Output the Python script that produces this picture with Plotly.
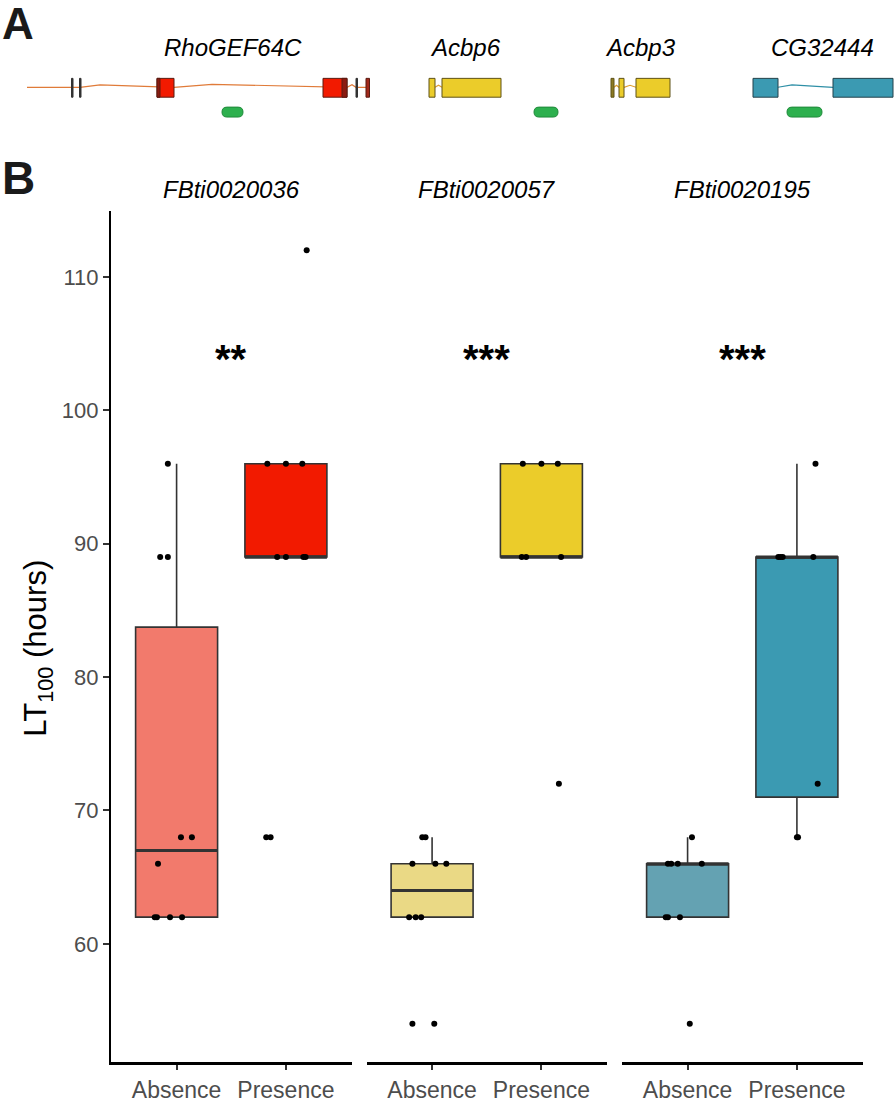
import numpy as np
import plotly.graph_objects as go

W, H = 894, 1103

# ---------------- Panel B data ----------------
categories = ["Absence", "Presence"]
te_names = ["FBti0020036", "FBti0020057", "FBti0020195"]
significance = ["**", "***", "***"]
significance_y = [104.5, 104.5, 104.5]

fbti0020036_absence = [62, 62, 62, 62, 66, 68, 68, 89, 89, 96]
fbti0020036_presence = [68, 68, 89, 89, 89, 89, 96, 96, 96, 112]
fbti0020057_absence = [54, 54, 62, 62, 62, 66, 66, 66, 68, 68]
fbti0020057_presence = [72, 89, 89, 89, 96, 96, 96]
fbti0020195_absence = [54, 62, 62, 62, 66, 66, 66, 66, 68]
fbti0020195_presence = [68, 68, 72, 89, 89, 89, 89, 96]

# horizontal jitter of the dots (category units)
jitter_0036_absence = [-0.20, -0.18, -0.06, 0.05, -0.17, 0.04, 0.14, -0.15, -0.08, -0.08]
jitter_0036_presence = [-0.18, -0.14, -0.08, 0.0, 0.16, 0.18, -0.17, 0.0, 0.15, 0.19]
jitter_0057_absence = [-0.18, 0.02, -0.21, -0.15, -0.10, -0.18, 0.03, 0.13, -0.09, -0.06]
jitter_0057_presence = [0.16, -0.18, -0.14, 0.18, -0.17, 0.0, 0.15]
jitter_0195_absence = [0.02, -0.20, -0.18, -0.07, -0.18, -0.15, -0.09, 0.13, 0.04]
jitter_0195_presence = [0.0, 0.01, 0.19, -0.17, -0.15, -0.13, 0.15, 0.17]

colors_absence = ["#F27A6C", "#EAD985", "#64A2B2"]
colors_presence = ["#F21A00", "#EBCC2A", "#3B9AB2"]

y_ticks = [60, 70, 80, 90, 100, 110]

# ---------------- Panel A data (gene models, track units) ----------------
gene_names = ["RhoGEF64C", "Acbp6", "Acbp3", "CG32444"]
gene_label_pos = [233, 465, 640, 822]

exon_start = [71.5, 79.5, 157, 157, 323, 342, 356, 366, 429, 442, 611, 619, 636, 753, 833]
exon_end = [73, 81, 174, 160, 347, 347, 357.5, 369.5, 435, 501, 614, 624, 670, 778, 893]
exon_fill = ["#333333", "#333333", "#F21A00", "#8B1A10", "#F21A00", "#8B1A10", "#333333", "#A0281A",
             "#EBCC2A", "#EBCC2A", "#8C7A22", "#EBCC2A", "#EBCC2A", "#3B9AB2", "#3B9AB2"]
exon_line = ["#333333", "#333333", "#5A1A10", "#5A1A10", "#5A1A10", "#5A1A10", "#333333", "#5A1A10",
             "#5E5218", "#5E5218", "#5E5218", "#5E5218", "#5E5218", "#23414A", "#23414A"]

intron_x = [
    [27, 80, 100, 157, 174, 212, 323, 347, 352, 356, 366],
    [435, 438.5, 442],
    [614, 616.5, 619, 624, 630, 636],
    [778, 792, 833],
]
intron_y = [
    [88, 88, 85.5, 88, 88, 85, 88, 88, 85.5, 88, 88],
    [88, 86, 88],
    [88, 86, 88, 88, 86, 88],
    [88, 85.5, 88],
]
intron_color = ["#E07B39", "#E0A030", "#E0A030", "#2E8FA6"]

te_start = [222, 534, 787]
te_end = [243, 558, 822]

FONT = "Liberation Sans"

fig = go.Figure()

panel_groups = [
    (fbti0020036_absence, fbti0020036_presence, jitter_0036_absence, jitter_0036_presence),
    (fbti0020057_absence, fbti0020057_presence, jitter_0057_absence, jitter_0057_presence),
    (fbti0020195_absence, fbti0020195_presence, jitter_0195_absence, jitter_0195_presence),
]


def box_stats(vals):
    v = np.array(vals, dtype=float)
    q1, med, q3 = np.percentile(v, [25, 50, 75])
    iqr = q3 - q1
    lo = v[v >= q1 - 1.5 * iqr].min()
    hi = v[v <= q3 + 1.5 * iqr].max()
    return q1, med, q3, lo, hi


BOXW = 0.75
for i, (absv, prev, ja, jp) in enumerate(panel_groups):
    xa = "x" if i == 0 else f"x{i + 1}"
    ya = "y" if i == 0 else f"y{i + 1}"
    for pos, vals, jit, col in [(1, absv, ja, colors_absence[i]), (2, prev, jp, colors_presence[i])]:
        q1, med, q3, lo, hi = box_stats(vals)
        fig.add_trace(go.Box(
            x=[pos], q1=[q1], median=[med], q3=[q3], lowerfence=[lo], upperfence=[hi],
            width=BOXW, fillcolor=col, line=dict(color="#333333", width=1.6),
            whiskerwidth=0, boxpoints=False, xaxis=xa, yaxis=ya, showlegend=False,
            hoverinfo="skip",
        ))
        fig.add_trace(go.Scatter(
            x=[pos - BOXW / 2, pos + BOXW / 2], y=[med, med], mode="lines",
            line=dict(color="#333333", width=3.2), xaxis=xa, yaxis=ya,
            showlegend=False, hoverinfo="skip",
        ))
        fig.add_trace(go.Scatter(
            x=[pos + j for j in jit], y=vals, mode="markers",
            marker=dict(color="black", size=6), xaxis=xa, yaxis=ya,
            showlegend=False, hoverinfo="skip",
        ))

# gene introns
for gx, gy, gc in zip(intron_x, intron_y, intron_color):
    fig.add_trace(go.Scatter(x=gx, y=gy, mode="lines", line=dict(color=gc, width=1.2),
                             xaxis="x4", yaxis="y4", showlegend=False, hoverinfo="skip"))

shapes = []
EX_TOP, EX_BOT = 79, 98
for s, e, fc, lc in zip(exon_start, exon_end, exon_fill, exon_line):
    shapes.append(dict(type="rect", xref="x4", yref="y4", x0=s, x1=e, y0=EX_TOP, y1=EX_BOT,
                       fillcolor=fc, line=dict(color=lc, width=1)))

TE_TOP, TE_BOT = 108, 118
r = (TE_BOT - TE_TOP) / 2
for s, e in zip(te_start, te_end):
    ym = (TE_TOP + TE_BOT) / 2
    path = (f"M {s + r},{TE_TOP} L {e - r},{TE_TOP} Q {e},{TE_TOP} {e},{ym} Q {e},{TE_BOT} {e - r},{TE_BOT} "
            f"L {s + r},{TE_BOT} Q {s},{TE_BOT} {s},{ym} Q {s},{TE_TOP} {s + r},{TE_TOP} Z")
    shapes.append(dict(type="path", xref="x4", yref="y4", path=path,
                       fillcolor="#2DB04E", line=dict(color="#1F8A3A", width=1)))

annotations = []
for name, px in zip(gene_names, gene_label_pos):
    annotations.append(dict(xref="x4", yref="y4", x=px, y=48, text=f"<i>{name}</i>", showarrow=False,
                            font=dict(family=FONT, size=24, color="black"), xanchor="center", yanchor="middle"))

def py(p):
    return 1 - p / H

for i, (name, sig, sy) in enumerate(zip(te_names, significance, significance_y)):
    xa = "x" if i == 0 else f"x{i + 1}"
    ya = "y" if i == 0 else f"y{i + 1}"
    annotations.append(dict(xref=xa, yref="paper", x=1.5, y=py(191), text=f"<i>{name}</i>", showarrow=False,
                            font=dict(family=FONT, size=24, color="black"), xanchor="center", yanchor="middle"))
    annotations.append(dict(xref=xa, yref=ya, x=1.5, y=sy, text=f"<b>{sig}</b>", showarrow=False,
                            font=dict(family=FONT, size=40, color="black"), xanchor="center", yanchor="middle",
                            yshift=-9))

annotations.append(dict(xref="paper", yref="paper", x=0.0, y=1.0, text="<b>A</b>", showarrow=False,
                        font=dict(family=FONT, size=44, color="#1a1a1a"), xanchor="left", yanchor="top",
                        yshift=3))
annotations.append(dict(xref="paper", yref="paper", x=0.0, y=py(151), text="<b>B</b>", showarrow=False,
                        font=dict(family=FONT, size=46, color="#1a1a1a"), xanchor="left", yanchor="top"))
annotations.append(dict(xref="paper", yref="paper", x=38 / W, y=py(654), text="LT<sub>100</sub> (hours)",
                        showarrow=False, textangle=-90, font=dict(family=FONT, size=31, color="black"),
                        xanchor="center", yanchor="middle"))

YDOM = [py(1071), py(213)]
YRANGE = [51.12, 114.93]
xdoms = [[111 / W, 351.5 / W], [366.5 / W, 607 / W], [622 / W, 862.5 / W]]

layout = dict(
    width=W, height=H, margin=dict(l=0, r=0, t=0, b=0),
    paper_bgcolor="white", plot_bgcolor="rgba(0,0,0,0)",
    shapes=shapes, annotations=annotations, showlegend=False,
    font=dict(family=FONT),
)
for i in range(3):
    k = "" if i == 0 else str(i + 1)
    layout[f"xaxis{k}"] = dict(
        domain=xdoms[i], range=[0.4, 2.6], anchor=f"y{k}", tickvals=[1, 2], ticktext=categories,
        showline=True, linecolor="black", linewidth=2.5, ticks="outside", ticklen=5, tickwidth=1.6,
        tickcolor="#333333", tickfont=dict(family=FONT, size=23, color="#4D4D4D"),
        showgrid=False, zeroline=False, fixedrange=True,
    )
    ycfg = dict(domain=YDOM, range=YRANGE, anchor=f"x{k}", showgrid=False, zeroline=False, fixedrange=True)
    if i == 0:
        ycfg.update(showline=True, linecolor="black", linewidth=2.2, ticks="outside", ticklen=6,
                    tickwidth=1.6, tickcolor="#333333", tickvals=y_ticks,
                    tickfont=dict(family=FONT, size=22, color="#4D4D4D"))
    else:
        ycfg.update(visible=False, matches="y")
    layout[f"yaxis{k}"] = ycfg

layout["xaxis4"] = dict(domain=[0, 1], range=[0, W], anchor="y4", visible=False, fixedrange=True)
layout["yaxis4"] = dict(domain=[py(130), 1], range=[130, 0], anchor="x4", visible=False, fixedrange=True)

fig.update_layout(**layout)
fig.write_html("out.html", config={"displayModeBar": False},
               post_script="document.body.style.margin='0';")
